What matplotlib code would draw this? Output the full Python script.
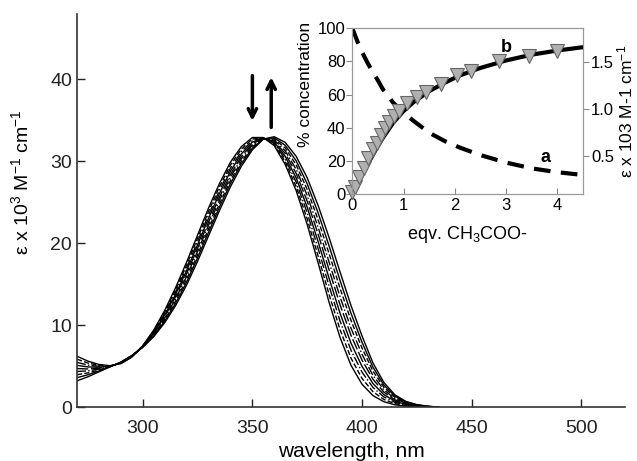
import matplotlib
matplotlib.use("Agg")
import matplotlib.pyplot as plt
import numpy as np

plt.rcParams['font.family'] = ['Liberation Sans', 'DejaVu Sans']
plt.rcParams['mathtext.fontset'] = 'custom'
plt.rcParams['mathtext.rm'] = 'Liberation Sans'
plt.rcParams['mathtext.it'] = 'Liberation Sans:italic'

# absorption spectra: free (blue-shifted) and bound (red-shifted) forms
wavelength = [270, 275, 280, 285, 290, 295, 300, 305, 310, 315, 320, 325, 330, 335,
              340, 345, 350, 355, 360, 365, 370, 375, 380, 385, 390, 395, 400, 405,
              410, 415, 420, 425, 430, 435]
eps_free = [6.2, 5.6, 5.2, 5.05, 5.3, 6.1, 7.5, 9.4, 11.8, 14.6, 17.7, 21.0, 24.3, 27.3,
            29.9, 31.8, 32.9, 32.9, 31.9, 29.6, 26.4, 22.3, 17.6, 12.8, 8.5, 5.1, 2.8, 1.4,
            0.65, 0.28, 0.11, 0.04, 0.01, 0.0]
eps_bound = [3.2, 3.7, 4.3, 4.9, 5.5, 6.3, 7.3, 8.6, 10.3, 12.4, 14.9, 17.8, 20.9, 24.0,
             26.9, 29.4, 31.4, 32.7, 33.0, 32.3, 30.6, 28.0, 24.6, 20.7, 16.5, 12.4, 8.7, 5.4,
             3.0, 1.5, 0.7, 0.3, 0.1, 0.0]
# fraction of bound form in each recorded spectrum
fractions = [0.0, 0.12, 0.25, 0.37, 0.5, 0.62, 0.75, 0.87, 1.0]
styles = ['-', '--', '-.', '-', (0, (8, 2)), '-.', '--', '-', '-']

# inset: titration
eqv = [0, 0.1, 0.2, 0.3, 0.4, 0.5, 0.6, 0.8, 1.0, 1.2, 1.5, 1.8, 2.1, 2.5, 3.0, 3.5, 4.0, 4.5]
conc_a = [100, 92, 85, 79, 73.5, 68.5, 63, 55, 49, 44, 37, 32, 28, 23.5, 19, 15.5, 13.2, 11.5]
conc_b = [0, 6, 12, 18, 23.5, 29, 34, 43, 50, 55.5, 62, 67, 71.5, 76, 80.5, 84, 86.5, 88.5]
tri_x = [0, 0.06, 0.14, 0.22, 0.31, 0.40, 0.48, 0.56, 0.64, 0.72, 0.82, 0.91, 1.07,
         1.26, 1.43, 1.73, 2.04, 2.31, 2.87, 3.44, 4.0]
tri_y = [1, 4, 10, 16, 22, 27, 31, 35.5, 40, 43.5, 47, 50, 55, 58.5, 61.5, 66.5,
         71.6, 74, 80, 83, 86]

fig = plt.figure(figsize=(6.37, 4.61), dpi=100)
ax = fig.add_axes([0.121, 0.117, 0.860, 0.853])

wl = np.array(wavelength)
ea = np.array(eps_free)
eb = np.array(eps_bound)
for f, ls in zip(fractions, styles):
    ax.plot(wl, (1 - f) * ea + f * eb, color='black', lw=1.0, ls=ls)

ax.set_xlim(270, 520)
ax.set_ylim(0, 48)
ax.set_xticks([300, 350, 400, 450, 500])
ax.set_yticks([0, 10, 20, 30, 40])
ax.tick_params(direction='in', length=6, width=1, labelsize=14, colors='#222222')
ax.tick_params(axis='x', pad=9)
for s in ['top', 'right']:
    ax.spines[s].set_visible(False)
for s in ['left', 'bottom']:
    ax.spines[s].set_linewidth(1.2)
    ax.spines[s].set_color('#333333')
ax.set_xlabel('wavelength, nm', fontsize=15, labelpad=4)
ax.set_ylabel('ε x 10$^3$ M$^{-1}$ cm$^{-1}$', fontsize=14)
ax.yaxis.set_label_coords(-0.083, 0.573)

ax.annotate('', xy=(350, 34.6), xytext=(350, 40.8),
            arrowprops=dict(arrowstyle='->,head_length=0.6,head_width=0.3', lw=2.5, color='black'))
ax.annotate('', xy=(358.6, 40.6), xytext=(358.6, 33.8),
            arrowprops=dict(arrowstyle='->,head_length=0.6,head_width=0.3', lw=2.5, color='black'))

# inset
ins = fig.add_axes([0.553, 0.579, 0.362, 0.360])
ins.plot(eqv, conc_a, color='black', lw=3, ls=(0, (4, 2.5)))
ins.plot(eqv, conc_b, color='black', lw=3)
ins.plot(tri_x, tri_y, ls='none', marker='v', ms=10, mfc='#b0b0b0', mec='#666666', mew=0.8,
         clip_on=False)
ins.set_xlim(0, 4.5)
ins.set_ylim(0, 100)
ins.set_xticks([0, 1, 2, 3, 4])
ins.set_yticks([0, 20, 40, 60, 80, 100])
for s in ins.spines.values():
    s.set_color('#999999')
ins.tick_params(axis='x', direction='in', length=4, color='#888888', labelsize=12, pad=3)
ins.tick_params(axis='y', direction='out', length=4, color='#888888', labelsize=12, pad=1)
ins.set_xlabel('eqv. CH$_3$COO-', fontsize=13, labelpad=8)
ins.set_ylabel('% concentration', fontsize=12.5)
ins.yaxis.set_label_coords(-0.17, 0.66)
ins.text(3.77, 22, 'a', fontsize=13, fontweight='bold', ha='center', va='center')
ins.text(3.0, 88.5, 'b', fontsize=13, fontweight='bold', ha='center', va='center')

ins2 = ins.twinx()
ins2.set_ylim(0.096, 1.86)
ins2.set_yticks([0.5, 1.0, 1.5])
ins2.set_yticklabels(['0.5', '1.0', '1.5'])
ins2.tick_params(axis='y', direction='out', length=4, color='#888888', labelsize=12, pad=2)
for s in ins2.spines.values():
    s.set_color('#999999')
ins2.set_ylabel('ε x 103 M-1 cm$^{-1}$', fontsize=12.5, labelpad=1)

fig.savefig('out.png', dpi=100)
